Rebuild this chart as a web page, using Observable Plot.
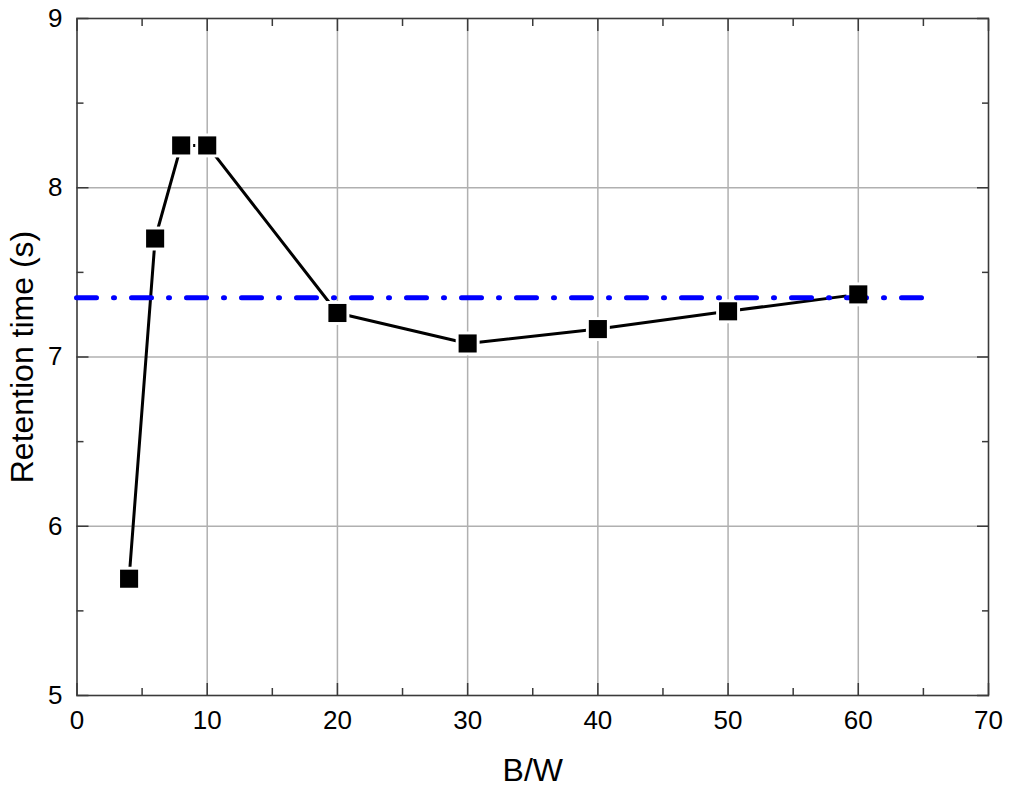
<!DOCTYPE html>
<html>
<head>
<meta charset="utf-8">
<script src="https://cdn.jsdelivr.net/npm/d3@7"></script>
<script src="https://cdn.jsdelivr.net/npm/@observablehq/plot@0.6"></script>
<style>
  html, body { margin: 0; padding: 0; background: #fff; }
  svg { display: block; }
</style>
</head>
<body>
<div id="chart"></div>
<script>
const bw = [4, 6, 8, 10, 20, 30, 40, 50, 60];
const retention = [5.69, 7.70, 8.25, 8.25, 7.26, 7.08, 7.165, 7.27, 7.37];
const refLevel = 7.35;
const refXStart = 0;
const refXEnd = 65;
const xMajorTicks = [0, 10, 20, 30, 40, 50, 60, 70];
const xMinorTicks = [5, 15, 25, 35, 45, 55, 65];
const xGridTicks = [10, 20, 30, 40, 50, 60];
const yMajorTicks = [5, 6, 7, 8, 9];
const yMinorTicks = [5.5, 6.5, 7.5, 8.5];
const yGridTicks = [6, 7, 8];
const xTitle = "B/W";
const yTitle = "Retention time (s)";

const data = bw.map((x, i) => ({x, y: retention[i]}));
const font = "'Liberation Sans', Arial, sans-serif";
const axisColor = "#3a3a3a";

const chart = Plot.plot({
  width: 1011,
  height: 791,
  marginLeft: 76.5,
  marginRight: 23,
  marginTop: 18,
  marginBottom: 96,
  style: {fontFamily: font, background: "#fff", color: "#000"},
  x: {domain: [0, 70], axis: null},
  y: {domain: [5, 9], axis: null},
  marks: [
    Plot.gridX(xGridTicks, {stroke: "#b0b0b0", strokeOpacity: 1, strokeWidth: 1.5}),
    Plot.gridY(yGridTicks, {stroke: "#b0b0b0", strokeOpacity: 1, strokeWidth: 1.5}),
    // inward ticks
    Plot.axisX(xMajorTicks, {anchor: "bottom", tickSize: -12, tickFormat: () => "", stroke: axisColor, strokeWidth: 1.5, label: null}),
    Plot.axisX(xMinorTicks, {anchor: "bottom", tickSize: -7, tickFormat: () => "", stroke: axisColor, strokeWidth: 1.5, label: null}),
    Plot.axisX(xMajorTicks, {anchor: "top", tickSize: -12, tickFormat: () => "", stroke: axisColor, strokeWidth: 1.5, label: null}),
    Plot.axisX(xMinorTicks, {anchor: "top", tickSize: -7, tickFormat: () => "", stroke: axisColor, strokeWidth: 1.5, label: null}),
    Plot.axisY(yMajorTicks, {anchor: "left", tickSize: -12, tickFormat: () => "", stroke: axisColor, strokeWidth: 1.5, label: null}),
    Plot.axisY(yMinorTicks, {anchor: "left", tickSize: -7, tickFormat: () => "", stroke: axisColor, strokeWidth: 1.5, label: null}),
    Plot.axisY(yMajorTicks, {anchor: "right", tickSize: -12, tickFormat: () => "", stroke: axisColor, strokeWidth: 1.5, label: null}),
    Plot.axisY(yMinorTicks, {anchor: "right", tickSize: -7, tickFormat: () => "", stroke: axisColor, strokeWidth: 1.5, label: null}),
    // tick labels
    Plot.text(xMajorTicks, {x: d => d, text: d => String(d), frameAnchor: "bottom", textAnchor: "middle", lineAnchor: "top", dy: 15.5, fontSize: 26, fill: "#000"}),
    Plot.text(yMajorTicks, {y: d => d, text: d => String(d), frameAnchor: "left", textAnchor: "end", lineAnchor: "middle", dx: -14.5, fontSize: 26, fill: "#000"}),
    // titles
    Plot.text([xTitle], {frameAnchor: "bottom", text: d => d, textAnchor: "middle", dy: 75, fontSize: 32, lineAnchor: "middle", fill: "#000"}),
    Plot.text([yTitle], {frameAnchor: "left", text: d => d, textAnchor: "middle", rotate: -90, dx: -54, fontSize: 32, lineAnchor: "middle", fill: "#000"}),
    Plot.frame({stroke: axisColor, strokeWidth: 1.6}),
    // data line
    Plot.line(data, {x: "x", y: "y", stroke: "#000", strokeWidth: 3}),
    Plot.dot(data, {x: "x", y: "y", symbol: "square", r: 13.5, fill: "#fff", stroke: "none"}),
    Plot.ruleY([refLevel], {x1: refXStart, x2: refXEnd, stroke: "#0000ff", strokeWidth: 5, strokeLinecap: "round", strokeDasharray: "20,17,1,17"}),
    Plot.dot(data, {x: "x", y: "y", symbol: "square", r: 10.2, fill: "#000", stroke: "none"})
  ]
});
document.getElementById("chart").appendChild(chart);
</script>
</body>
</html>
